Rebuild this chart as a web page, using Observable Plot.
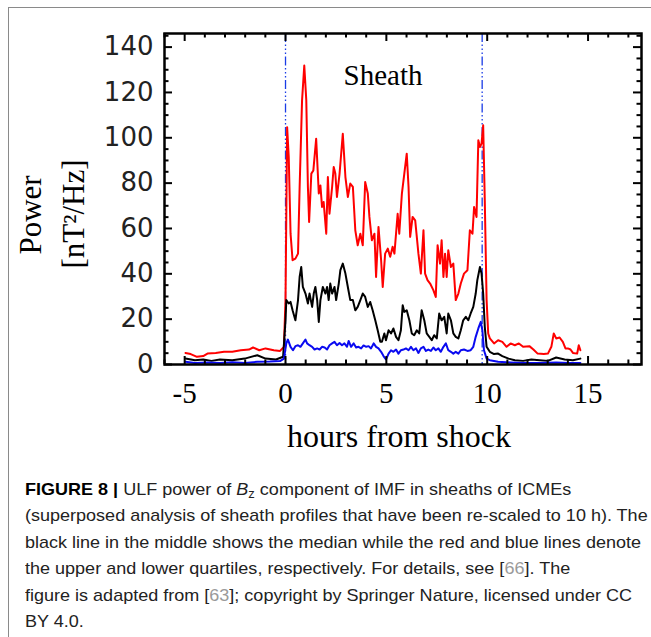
<!DOCTYPE html>
<html>
<head>
<meta charset="utf-8">
<script src="https://cdn.jsdelivr.net/npm/d3@7"></script>
<script src="https://cdn.jsdelivr.net/npm/@observablehq/plot@0.6"></script>
<style>
  html, body { margin: 0; padding: 0; background: #fff; width: 651px; height: 637px; overflow: hidden; }
  #page { position: relative; width: 651px; height: 637px; }
  #border { position: absolute; left: 8px; top: 7px; width: 700px; height: 700px; border: 1.5px solid #8a8a8a; box-sizing: border-box; }
  #chart svg { position: absolute; left: 0; top: 0; overflow: visible; background: transparent; }
  .ttl { position: absolute; font-family: "Liberation Serif", serif; color: #000; white-space: nowrap; line-height: 1; }
  #xtitle { font-size: 32px; left: 399px; top: 420px; transform: translateX(-50%); }
  .ytitle { font-size: 31px; transform: translate(-50%, -50%) rotate(-90deg); }
  #caption { position: absolute; left: 25px; top: 477px; font-family: "Liberation Sans", Arial, sans-serif; font-size: 17px; line-height: 26.4px; color: #222; white-space: nowrap; transform-origin: 0 0; }
  #caption b { font-weight: bold; color: #000; }
  #caption sub { font-size: 0.72em; vertical-align: -0.25em; line-height: 0; }
  #caption .ref { color: #9a9a9a; }
</style>
</head>
<body>
<div id="page">
  <div id="border"></div>
  <div id="chart"></div>
  <div class="ttl ytitle" style="left:30px; top:215px;">Power</div>
  <div class="ttl ytitle" style="left:73px; top:214px;">[nT²/Hz]</div>
  <div class="ttl" id="xtitle">hours from shock</div>
  <div id="caption">
    <div class="ln"><b>FIGURE 8 |</b> ULF power of <i>B</i><sub>z</sub> component of IMF in sheaths of ICMEs</div>
    <div class="ln" id="widest">(superposed analysis of sheath profiles that have been re-scaled to 10 h). The</div>
    <div class="ln" id="line3">black line in the middle shows the median while the red and blue lines denote</div>
    <div class="ln">the upper and lower quartiles, respectively. For details, see [<span class="ref">66</span>]. The</div>
    <div class="ln">figure is adapted from [<span class="ref">63</span>]; copyright by Springer Nature, licensed under CC</div>
    <div class="ln">BY 4.0.</div>
  </div>
</div>
<script>
// ---- Data ----
const xTickLabels = [-5, 0, 5, 10, 15];
const xMinorTicks = [-6,-4,-3,-2,-1,1,2,3,4,6,7,8,9,11,12,13,14,16,17];
const yTickLabels = [0, 20, 40, 60, 80, 100, 120, 140];
const yMinorTicks = [5,10,15,25,30,35,45,50,55,65,70,75,85,90,95,105,110,115,125,130,135,145];
const sheathBounds = [0, 9.75]; // shock and end of sheath (hours)

// upper quartile (red)
const upperHours = [-4.96,-4.70,-4.39,-4.08,-3.87,-3.46,-3.05,-2.64,-2.22,-1.81,-1.61,-1.30,-0.99,-0.58,-0.27,-0.08,0.00,0.08,0.16,0.25,0.35,0.49,0.62,0.70,0.82,0.93,1.03,1.11,1.17,1.28,1.38,1.52,1.65,1.73,1.81,1.89,2.02,2.10,2.18,2.31,2.39,2.47,2.55,2.68,2.84,2.97,3.09,3.21,3.34,3.46,3.58,3.71,3.83,3.95,4.08,4.16,4.28,4.41,4.49,4.61,4.74,4.82,4.94,5.07,5.19,5.31,5.40,5.56,5.64,5.77,5.89,6.01,6.10,6.18,6.30,6.43,6.59,6.71,6.84,6.92,7.04,7.17,7.33,7.45,7.54,7.66,7.74,7.83,7.91,7.99,8.07,8.20,8.32,8.44,8.57,8.69,8.85,9.02,9.14,9.27,9.35,9.47,9.56,9.64,9.72,9.80,9.88,9.97,10.05,10.13,10.34,10.54,10.75,10.96,11.16,11.37,11.57,11.78,12.09,12.29,12.50,12.81,13.01,13.18,13.30,13.42,13.59,13.75,13.88,14.00,14.13,14.25,14.46,14.54,14.62];
const upperPower = [5.1,4.6,3.4,3.7,4.8,5.1,5.6,5.6,6.3,6.6,7.5,6.3,7.1,6.3,6.0,7.8,28.4,104.7,91.5,57.7,46.0,46.7,48.9,78.3,116.5,131.9,116.5,78.3,62.9,84.2,85.6,99.6,75.4,79.0,69.5,71.7,57.7,82.7,66.5,78.3,87.1,84.2,73.9,84.2,101.8,82.7,73.9,79.8,78.3,59.2,52.6,57.7,52.6,80.5,75.4,65.1,54.8,57.7,38.6,60.7,46.0,34.2,48.9,51.1,47.5,51.9,48.9,66.5,57.7,75.4,84.2,93.0,78.3,56.3,65.1,63.6,48.9,40.1,59.2,40.1,37.2,35.7,32.8,29.8,52.6,44.5,54.8,38.6,48.9,38.6,50.4,43.0,44.5,28.4,31.3,35.7,40.1,41.6,59.2,57.7,69.5,65.1,98.9,95.9,97.4,105.5,72.4,28.4,13.7,11.5,9.3,10.7,10.0,7.8,9.3,8.5,9.3,7.8,8.1,6.6,4.8,4.6,4.8,7.8,13.7,11.5,11.9,10.0,7.1,7.1,6.6,5.1,4.8,8.5,6.3];

// median (black)
const medianHours = [-4.96,-4.49,-4.08,-3.67,-3.25,-2.64,-2.02,-1.40,-0.99,-0.47,-0.12,0.00,0.04,0.16,0.25,0.35,0.49,0.62,0.70,0.78,0.86,0.99,1.11,1.19,1.32,1.40,1.48,1.57,1.65,1.73,1.85,1.98,2.06,2.14,2.22,2.31,2.43,2.51,2.64,2.72,2.84,2.97,3.09,3.21,3.34,3.46,3.58,3.71,3.83,3.95,4.08,4.20,4.32,4.45,4.57,4.70,4.78,4.90,4.98,5.11,5.23,5.35,5.48,5.60,5.72,5.81,5.89,6.01,6.14,6.26,6.38,6.51,6.63,6.75,6.88,7.00,7.13,7.25,7.37,7.50,7.62,7.74,7.87,7.99,8.07,8.20,8.32,8.44,8.57,8.69,8.81,8.94,9.06,9.18,9.31,9.43,9.51,9.64,9.72,9.80,9.88,9.97,10.13,10.34,10.54,10.75,11.06,11.37,11.78,12.19,12.60,13.01,13.42,13.84,14.25,14.62];
const medianPower = [2.6,1.9,2.2,1.6,2.2,1.9,2.6,4.1,2.6,2.2,3.4,19.5,28.4,26.9,27.6,23.9,19.5,28.4,38.6,43.0,34.2,31.3,26.9,31.3,25.4,31.3,34.2,28.4,18.8,28.4,34.2,31.3,34.2,28.4,35.7,31.3,34.2,28.4,35.7,41.6,44.5,40.1,34.2,28.4,28.4,23.9,25.4,28.4,31.3,29.8,25.4,27.6,23.9,19.5,15.1,10.0,10.0,13.7,10.7,15.1,13.7,15.9,12.2,10.7,15.1,26.1,23.2,23.9,19.5,13.7,12.9,15.1,13.7,23.9,19.5,13.7,12.2,10.7,12.9,11.5,22.5,19.5,21.0,13.7,22.5,19.5,13.7,12.2,11.5,15.1,19.5,21.0,19.5,22.5,25.4,31.3,37.2,43.0,40.1,31.3,16.6,7.8,5.6,4.6,4.8,3.7,2.6,1.9,1.6,2.2,1.9,1.6,3.1,2.2,1.9,2.6];

// lower quartile (blue)
const lowerHours = [-4.96,-4.49,-3.87,-3.25,-2.64,-2.02,-1.40,-0.78,-0.27,-0.08,0.04,0.12,0.25,0.37,0.49,0.62,0.74,0.86,0.99,1.07,1.19,1.32,1.44,1.57,1.69,1.81,1.94,2.06,2.18,2.31,2.43,2.55,2.68,2.80,2.92,3.05,3.13,3.25,3.38,3.50,3.62,3.75,3.87,4.00,4.12,4.24,4.37,4.49,4.61,4.74,4.86,4.98,5.11,5.23,5.35,5.48,5.60,5.72,5.85,5.97,6.10,6.22,6.34,6.47,6.59,6.71,6.84,6.96,7.08,7.21,7.33,7.45,7.58,7.70,7.83,7.95,8.07,8.20,8.32,8.44,8.57,8.69,8.85,9.02,9.18,9.31,9.43,9.56,9.68,9.76,9.84,9.97,10.13,10.54,11.16,11.78,12.60,13.42,14.04,14.62];
const lowerPower = [1.2,0.7,0.9,0.7,1.0,0.7,1.2,1.3,1.5,2.6,9.3,11.0,7.8,6.3,8.1,8.5,7.8,9.3,11.0,9.3,8.5,7.8,6.6,7.1,6.6,7.8,7.5,6.6,8.5,9.3,10.0,8.5,9.5,8.5,9.3,7.8,10.4,7.8,9.3,7.5,7.8,7.1,8.4,7.8,8.1,7.1,9.3,7.8,7.1,5.6,3.7,2.2,4.8,6.3,5.6,6.6,4.8,6.3,6.6,7.1,6.3,7.8,6.3,7.1,5.1,7.1,7.8,6.0,6.6,6.0,7.5,6.3,7.1,5.6,7.8,9.3,6.3,5.6,4.8,5.6,4.8,6.3,6.6,6.0,6.3,7.8,12.2,15.9,18.8,15.1,6.3,2.6,1.9,1.2,0.9,0.7,0.7,0.9,0.7,0.7];

// ---- Layout ----
const W = 651, H = 465, mL = 164, mR = 10, mT = 33, mB = 101;
const fw = W - mL - mR, fh = H - mT - mB;
const majorLen = 8, minorLen = 4.5;

const chart = Plot.plot({
  width: W, height: H,
  marginLeft: mL, marginRight: mR, marginTop: mT, marginBottom: mB,
  x: { domain: [-6, 17.65] },
  y: { domain: [0, 146] },
  style: { background: "transparent" },
  marks: [
    // sheath boundaries
    Plot.ruleX(sheathBounds, { x: d => d, stroke: "#1a3ce6", strokeWidth: 1.3, strokeDasharray: "9,2.5,1.5,2.5,1.5,2.5,1.5,2.5" }),
    // quartiles and median
    Plot.line(upperPower, { x: upperHours, y: upperPower, stroke: "#ff0000", strokeWidth: 2 }),
    Plot.line(medianPower, { x: medianHours, y: medianPower, stroke: "#000000", strokeWidth: 2 }),
    Plot.line(lowerPower, { x: lowerHours, y: lowerPower, stroke: "#0a0af0", strokeWidth: 2 }),
    // inward ticks: bottom / top
    Plot.tickX(xTickLabels, { x: d => d, insetTop: fh - majorLen, stroke: "black", strokeWidth: 2 }),
    Plot.tickX(xMinorTicks, { x: d => d, insetTop: fh - minorLen, stroke: "black", strokeWidth: 2 }),
    Plot.tickX(xTickLabels, { x: d => d, insetBottom: fh - majorLen, stroke: "black", strokeWidth: 2 }),
    Plot.tickX(xMinorTicks, { x: d => d, insetBottom: fh - minorLen, stroke: "black", strokeWidth: 2 }),
    // inward ticks: left / right
    Plot.tickY(yTickLabels, { y: d => d, insetRight: fw - majorLen, stroke: "black", strokeWidth: 2 }),
    Plot.tickY(yMinorTicks, { y: d => d, insetRight: fw - minorLen, stroke: "black", strokeWidth: 2 }),
    Plot.tickY(yTickLabels, { y: d => d, insetLeft: fw - majorLen, stroke: "black", strokeWidth: 2 }),
    Plot.tickY(yMinorTicks, { y: d => d, insetLeft: fw - minorLen, stroke: "black", strokeWidth: 2 }),
    Plot.frame({ stroke: "black", strokeWidth: 2.5 }),
    // tick labels
    Plot.axisX(xTickLabels, { tickSize: 0, tickPadding: 18, fontSize: 29, fontFamily: "Liberation Serif", fill: "#000", label: null, tickFormat: d => String(d) }),
    Plot.axisY(yTickLabels, { tickSize: 0, tickPadding: 11, fontSize: 26, fontFamily: "DejaVu Sans", fill: "#222", label: null, tickFormat: d => String(d) }),
    // annotation
    Plot.text(["Sheath"], { frameAnchor: "top", dx: -20, dy: 31, fontSize: 29, fontFamily: "Liberation Serif", fill: "#000" })
  ]
});
document.getElementById("chart").appendChild(chart);

// fit caption width to the reference column (line 3 spans ~616px)
const cap = document.getElementById("caption");
const l3 = document.getElementById("line3");
const rng = document.createRange();
rng.selectNodeContents(l3);
const w3 = rng.getBoundingClientRect().width;
if (w3 > 0) cap.style.transform = `scaleX(${616 / w3})`;
</script>
</body>
</html>
